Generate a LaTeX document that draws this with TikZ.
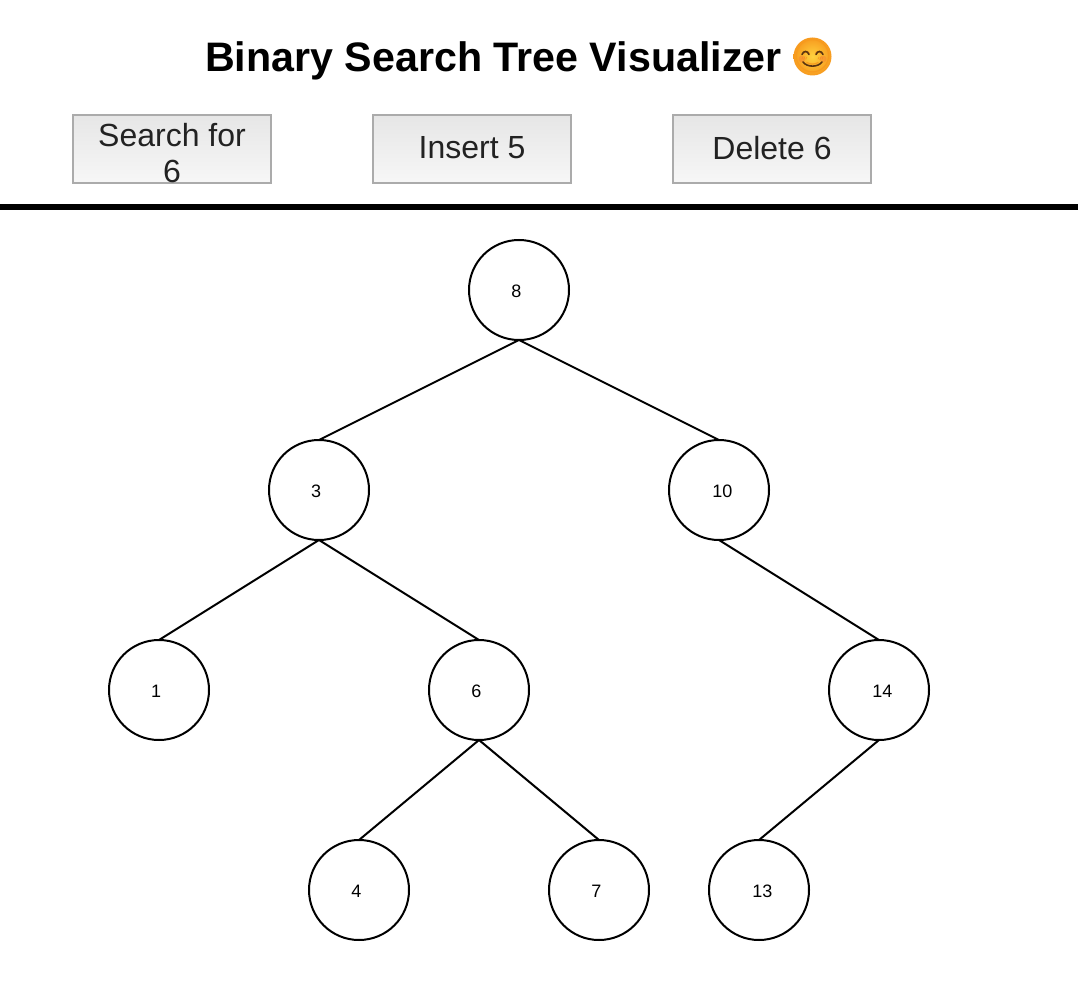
\documentclass[tikz,border=0pt]{standalone}
\usepackage{fontspec}
\setmainfont{Liberation Sans}
\newfontfamily\emojifont{Noto Emoji}
\definecolor{btnborder}{HTML}{ABABAB}
\definecolor{btntop}{HTML}{E6E6E6}
\definecolor{btnbottom}{HTML}{F7F7F7}
\definecolor{btntext}{HTML}{222222}
\definecolor{emojiface}{HTML}{FFD23F}
\definecolor{emojiedge}{HTML}{F79A1E}
\definecolor{emojiink}{HTML}{5A3410}
\definecolor{emojiblush}{HTML}{F4693A}
\tikzset{
  x=1pt,y=-1pt,
  treenode/.style={draw=black,line width=2pt,circle,fill=white,minimum size=100pt,inner sep=0pt,outer sep=0pt,font=\fontsize{18}{20}\selectfont},
  treeedge/.style={draw=black,line width=2pt},
  btn/.style={draw=btnborder,line width=2pt,top color=btntop,bottom color=btnbottom,minimum width=198pt,minimum height=68pt,inner sep=0pt,text=btntext,align=center,font=\fontsize{32}{36}\selectfont},
  titletext/.style={inner sep=0pt,anchor=base west,font=\fontsize{41.2}{46}\selectfont\bfseries},
  faceink/.style={draw=emojiink,line width=1.6pt,line cap=round},
}
\newcommand{\leftlab}[1]{\rule{0pt}{15pt}\hspace*{-5.5pt}#1}
\newcommand{\rightlab}[1]{\rule{0pt}{15pt}\hspace*{6.5pt}#1}
\begin{document}
\begin{tikzpicture}
\useasboundingbox (0,0) rectangle (1078,1000);
\node[titletext] (title) at (205,72) {Binary Search Tree Visualizer};
\node[circle,minimum size=38pt,inner sep=0pt,inner color=emojiface,outer color=emojiedge] (face) at (812.5,56.5) {};
\node[inner sep=0pt,text=emojiedge,font=\emojifont\fontsize{33}{33}\selectfont] (smile) at (face.center) {😊};
\fill[emojiblush,opacity=.3] (802,59) circle (3.5);
\fill[emojiblush,opacity=.3] (823,59) circle (3.5);
\draw[faceink] (802,54.5) .. controls (803.5,50.5) and (807.5,50.5) .. (809,54.5);
\draw[faceink] (816,54.5) .. controls (817.5,50.5) and (821.5,50.5) .. (823,54.5);
\draw[faceink] (803,62) .. controls (807,67.5) and (818,67.5) .. (822,62);
\node[btn] (search) at (172,149) {\rule{0pt}{32pt}Search for\\6};
\node[btn] (insert) at (472,149) {\raisebox{3pt}{Insert 5}};
\node[btn] (delete) at (772,149) {\raisebox{3pt}{Delete 6}};
\fill[black] (0,204) rectangle (1078,210);
\node[treenode] (n8) at (519,290) {\leftlab{8}};
\node[treenode] (n3) at (319,490) {\leftlab{3}};
\node[treenode] (n10) at (719,490) {\rightlab{10}};
\node[treenode] (n1) at (159,690) {\leftlab{1}};
\node[treenode] (n6) at (479,690) {\leftlab{6}};
\node[treenode] (n14) at (879,690) {\rightlab{14}};
\node[treenode] (n4) at (359,890) {\leftlab{4}};
\node[treenode] (n7) at (599,890) {\leftlab{7}};
\node[treenode] (n13) at (759,890) {\rightlab{13}};
\foreach \a/\b in {n8/n3,n8/n10,n3/n1,n3/n6,n10/n14,n6/n4,n6/n7,n14/n13}
  \draw[treeedge] (\a.south) -- (\b.north);
\end{tikzpicture}
\end{document}
